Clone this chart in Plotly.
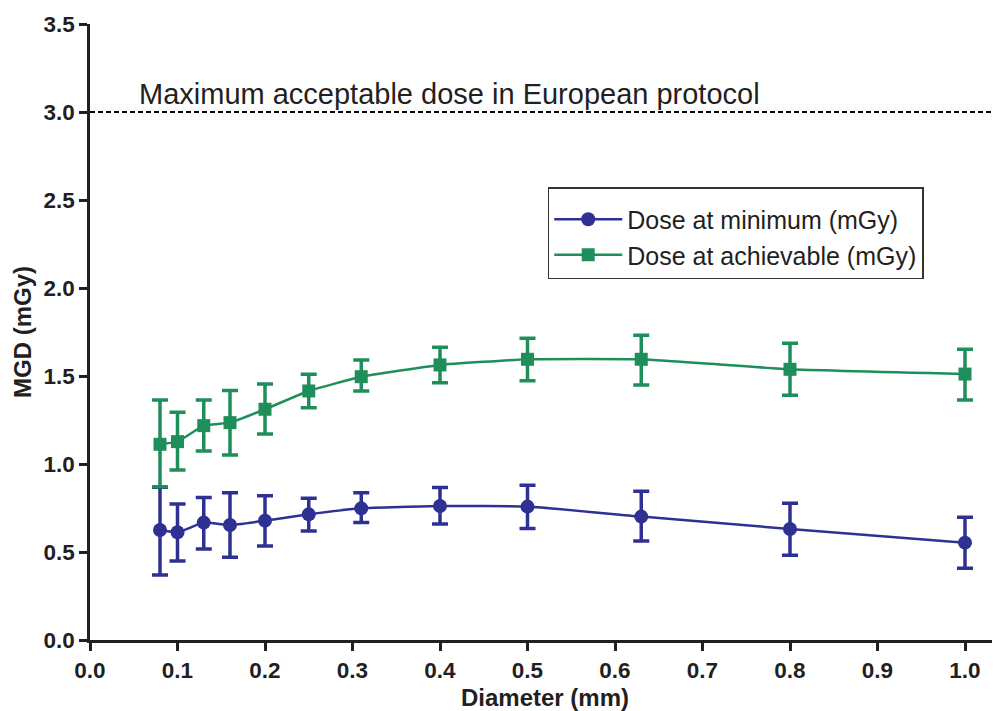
import plotly.graph_objects as go

diameter = [0.08, 0.10, 0.13, 0.16, 0.20, 0.25, 0.31, 0.40, 0.50, 0.63, 0.80, 1.00]

dose_min = [0.625, 0.612, 0.667, 0.653, 0.678, 0.714, 0.748, 0.761, 0.758, 0.701, 0.631, 0.553]
dose_min_hi = [0.868, 0.773, 0.809, 0.837, 0.820, 0.805, 0.837, 0.866, 0.879, 0.845, 0.777, 0.697]
dose_min_lo = [0.369, 0.449, 0.517, 0.470, 0.534, 0.619, 0.667, 0.659, 0.634, 0.563, 0.481, 0.407]

dose_ach = [1.112, 1.127, 1.218, 1.235, 1.311, 1.415, 1.496, 1.563, 1.595, 1.595, 1.538, 1.511]
dose_ach_hi = [1.364, 1.294, 1.364, 1.417, 1.455, 1.510, 1.591, 1.663, 1.714, 1.731, 1.686, 1.652]
dose_ach_lo = [0.871, 0.966, 1.074, 1.051, 1.170, 1.320, 1.415, 1.462, 1.473, 1.449, 1.390, 1.364]

limit_value = 3.0
limit_label = "Maximum acceptable dose in European protocol"

x_ticks = [0.0, 0.1, 0.2, 0.3, 0.4, 0.5, 0.6, 0.7, 0.8, 0.9, 1.0]
y_ticks = [0.0, 0.5, 1.0, 1.5, 2.0, 2.5, 3.0, 3.5]

BLUE = "#2E3192"
GREEN = "#1E8F5A"
INK = "#231f20"
FONT = "Liberation Sans, Arial, sans-serif"


def err(vals, hi, lo):
    return dict(
        type="data", symmetric=False,
        array=[h - v for h, v in zip(hi, vals)],
        arrayminus=[v - l for v, l in zip(vals, lo)],
        thickness=3.5, width=8,
    )


fig = go.Figure()
fig.add_trace(go.Scatter(
    x=diameter, y=dose_min, name="Dose at minimum (mGy)",
    mode="lines+markers", line=dict(color=BLUE, width=2.5, shape="spline", smoothing=0.35),
    marker=dict(symbol="circle", size=14, color=BLUE),
    error_y=dict(color=BLUE, **err(dose_min, dose_min_hi, dose_min_lo)),
))
fig.add_trace(go.Scatter(
    x=diameter, y=dose_ach, name="Dose at achievable (mGy)",
    mode="lines+markers", line=dict(color=GREEN, width=2.5, shape="spline", smoothing=0.35),
    marker=dict(symbol="square", size=13, color=GREEN),
    error_y=dict(color=GREEN, **err(dose_ach, dose_ach_hi, dose_ach_lo)),
))

fig.add_shape(type="line", xref="x", yref="y", x0=0, x1=1.04, y0=limit_value, y1=limit_value,
              line=dict(color="black", width=2, dash="5px,3px"), layer="below")
fig.add_annotation(x=0.054, y=limit_value, xref="x", yref="y", text=limit_label,
                   showarrow=False, xanchor="left", yanchor="bottom", yshift=0,
                   font=dict(family=FONT, size=29, color=INK))

axis_common = dict(
    showgrid=False, zeroline=False, showline=True, linecolor=INK, linewidth=2.5,
    ticks="outside", ticklen=8, tickwidth=2.5, tickcolor=INK, automargin=False,
    tickfont=dict(family=FONT, size=22.5, color=INK, weight="bold"),
)

fig.update_layout(
    width=992, height=703,
    margin=dict(l=82, r=0, t=16, b=71),
    plot_bgcolor="white", paper_bgcolor="white",
    font=dict(family=FONT, color=INK),
    xaxis=dict(range=[0, 1.04], tickvals=x_ticks, ticktext=[f"{v:.1f}" for v in x_ticks],
               title=dict(text="<b>Diameter (mm)</b>", font=dict(family=FONT, size=24, color=INK), standoff=10),
               **axis_common),
    yaxis=dict(range=[0, 3.5], tickvals=y_ticks, ticktext=[f"{v:.1f}" for v in y_ticks],
               title=dict(text="<b>MGD (mGy)</b>", font=dict(family=FONT, size=24, color=INK), standoff=6),
               **axis_common),
    legend=dict(x=0.503, y=0.735, xanchor="left", yanchor="top",
                bordercolor="#333333", borderwidth=1.5, bgcolor="white",
                font=dict(family=FONT, size=25, color=INK),
                title=dict(text=" ", font=dict(size=6)),
                tracegroupgap=4, itemwidth=68),
    showlegend=True,
)

fig.write_html("out.html")
